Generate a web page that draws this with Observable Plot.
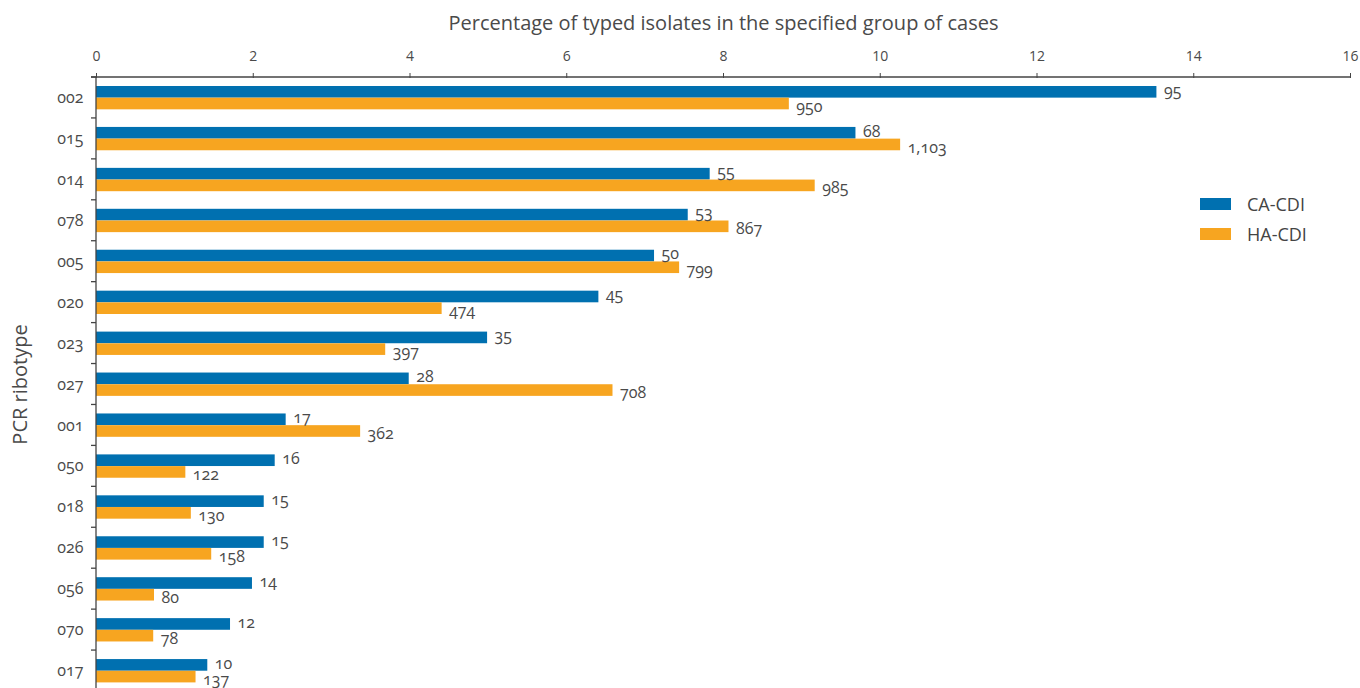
<!DOCTYPE html>
<html>
<head>
<meta charset="utf-8">
<script src="https://cdn.jsdelivr.net/npm/d3@7"></script>
<script src="https://cdn.jsdelivr.net/npm/@observablehq/plot@0.6"></script>
<style>
  html, body { margin: 0; padding: 0; background: #fff; overflow: hidden; }
  #wrap { position: relative; width: 1360px; height: 688px; overflow: hidden; }
  #chart svg { font-family: "Open Sans", sans-serif; font-variant-numeric: oldstyle-nums; }
  .legend { position: absolute; left: 1200px; font-family: "Open Sans", sans-serif; font-size: 18px; color: #444; }
  .legend div { display: flex; align-items: center; height: 30px; }
  .legend span.sw { display: inline-block; width: 31px; height: 12px; margin-right: 16px; }
</style>
</head>
<body>
<div id="wrap">
  <div id="chart"></div>
  <div class="legend" id="legend" style="top:189px"></div>
</div>
<script>
const ribotypes = ["002","015","014","078","005","020","023","027","001","050","018","026","056","070","017"];
const caPct   = [13.53, 9.69, 7.83, 7.55, 7.12, 6.41, 4.99, 3.99, 2.42, 2.28, 2.14, 2.14, 1.99, 1.71, 1.42];
const caCount = ["95","68","55","53","50","45","35","28","17","16","15","15","14","12","10"];
const haPct   = [8.84, 10.26, 9.17, 8.07, 7.44, 4.41, 3.69, 6.59, 3.37, 1.14, 1.21, 1.47, 0.74, 0.73, 1.27];
const haCount = ["950","1,103","985","867","799","474","397","708","362","122","130","158","80","78","137"];
const seriesNames = ["CA-CDI", "HA-CDI"];
const seriesColors = ["#0070b0", "#f7a520"];
const xTicks = [0, 2, 4, 6, 8, 10, 12, 14, 16];

const ca = ribotypes.map((r, i) => ({rib: r, pct: caPct[i], label: caCount[i]}));
const ha = ribotypes.map((r, i) => ({rib: r, pct: haPct[i], label: haCount[i]}));

const textColor = "#4a4a4a";

function frameLines(index, scales, values, dims) {
  const g = d3.create("svg:g").attr("stroke", "#444").attr("stroke-width", 1.3);
  const x0 = scales.x(0);
  g.append("line").attr("x1", x0 - 5).attr("x2", dims.width - dims.marginRight)
    .attr("y1", dims.marginTop).attr("y2", dims.marginTop);
  g.append("line").attr("x1", x0).attr("x2", x0)
    .attr("y1", dims.marginTop).attr("y2", dims.height);
  for (const r of ribotypes) {
    const y = scales.y(r);
    g.append("line").attr("x1", x0 - 5).attr("x2", x0).attr("y1", y).attr("y2", y);
  }
  return g.node();
}

const chart = Plot.plot({
  width: 1360,
  height: 692,
  marginLeft: 96,
  marginRight: 10,
  marginTop: 77,
  marginBottom: 1,
  style: {fontSize: "14px", color: textColor},
  x: {domain: [0, 16]},
  y: {domain: ribotypes, padding: 0, round: false},
  marks: [
    Plot.barX(ca, {x: "pct", y: "rib", fill: seriesColors[0], insetTop: 9, insetBottom: 20.3}),
    Plot.barX(ha, {x: "pct", y: "rib", fill: seriesColors[1], insetTop: 20.7, insetBottom: 8.6}),
    Plot.text(ca, {x: "pct", y: "rib", text: "label", textAnchor: "start", dx: 7, dy: -7.5, fontSize: 16, fill: textColor}),
    Plot.text(ha, {x: "pct", y: "rib", text: "label", textAnchor: "start", dx: 7, dy: 8.5, fontSize: 16, fill: textColor}),
    Plot.axisX({anchor: "top", ticks: xTicks, tickSize: 5, tickPadding: 12, fontSize: 14,
      stroke: "#444", color: textColor,
      label: "Percentage of typed isolates in the specified group of cases", labelAnchor: "center", labelOffset: 62}),
    Plot.axisY({anchor: "left", tickSize: 0, tickPadding: 13, fontSize: 16, color: textColor,
      label: "PCR ribotype", labelAnchor: "center", labelOffset: 84}),
    frameLines
  ]
});
chart.querySelectorAll("g[aria-label='x-axis label'] text, g[aria-label='y-axis label'] text").forEach(t => {
  t.setAttribute("font-size", "20");
  t.style.fill = textColor;
  t.textContent = t.textContent.replace(/\s*[→←↑↓]\s*/g, "");
});
document.getElementById("chart").appendChild(chart);

const leg = document.getElementById("legend");
seriesNames.forEach((n, i) => {
  const row = document.createElement("div");
  row.innerHTML = `<span class="sw" style="background:${seriesColors[i]}"></span><span>${n}</span>`;
  leg.appendChild(row);
});
</script>
</body>
</html>
